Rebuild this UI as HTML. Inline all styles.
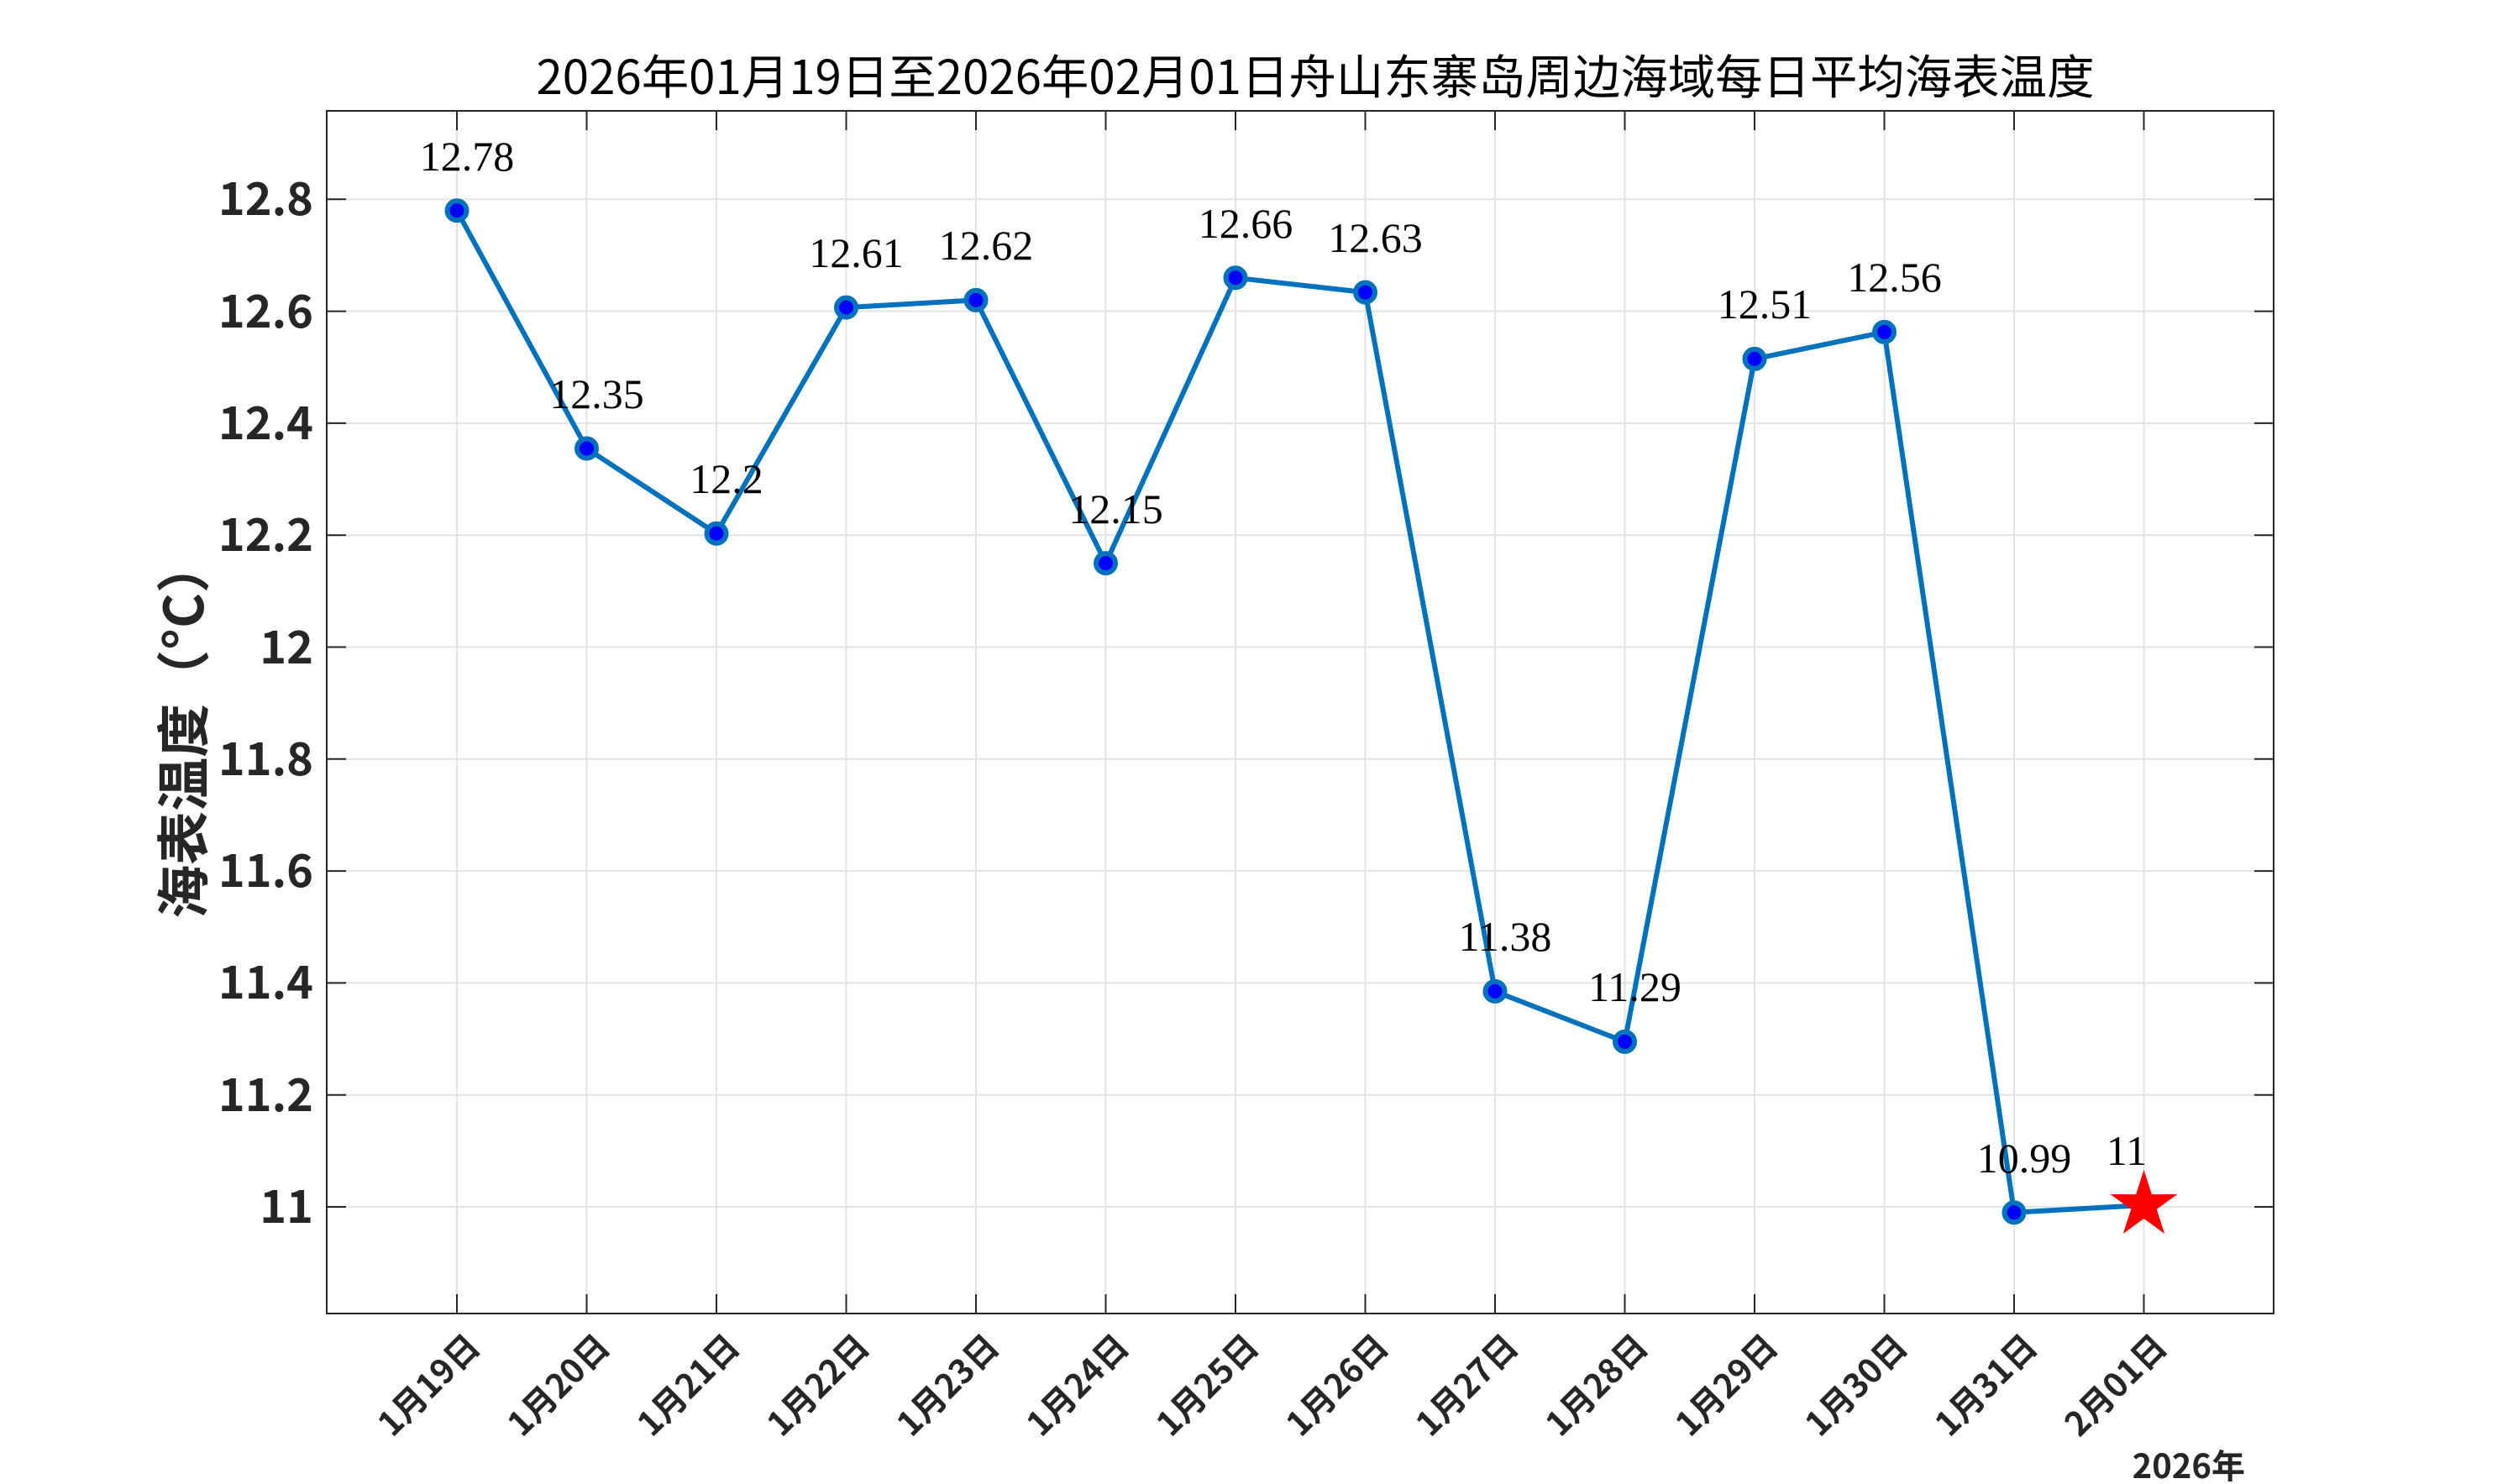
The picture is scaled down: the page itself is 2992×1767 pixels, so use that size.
<!DOCTYPE html>
<html><head><meta charset="utf-8"><style>html,body{margin:0;padding:0;background:#fff}svg{display:block}</style></head>
<body>
<svg width="2992" height="1767" viewBox="0 0 2992 1767" xmlns="http://www.w3.org/2000/svg">
<rect width="2992" height="1767" fill="#fff"/>
<g stroke="#e3e3e3" stroke-width="2">
<line x1="389" x2="2707" y1="1437" y2="1437"/><line x1="389" x2="2707" y1="1303.7" y2="1303.7"/><line x1="389" x2="2707" y1="1170.4" y2="1170.4"/><line x1="389" x2="2707" y1="1037.1" y2="1037.1"/><line x1="389" x2="2707" y1="903.8" y2="903.8"/><line x1="389" x2="2707" y1="770.5" y2="770.5"/><line x1="389" x2="2707" y1="637.2" y2="637.2"/><line x1="389" x2="2707" y1="503.9" y2="503.9"/><line x1="389" x2="2707" y1="370.6" y2="370.6"/><line x1="389" x2="2707" y1="237.3" y2="237.3"/>
<line y1="132" y2="1564" x1="544" x2="544"/><line y1="132" y2="1564" x1="698.5" x2="698.5"/><line y1="132" y2="1564" x1="853" x2="853"/><line y1="132" y2="1564" x1="1007.5" x2="1007.5"/><line y1="132" y2="1564" x1="1162" x2="1162"/><line y1="132" y2="1564" x1="1316.5" x2="1316.5"/><line y1="132" y2="1564" x1="1471" x2="1471"/><line y1="132" y2="1564" x1="1625.5" x2="1625.5"/><line y1="132" y2="1564" x1="1780" x2="1780"/><line y1="132" y2="1564" x1="1934.5" x2="1934.5"/><line y1="132" y2="1564" x1="2089" x2="2089"/><line y1="132" y2="1564" x1="2243.5" x2="2243.5"/><line y1="132" y2="1564" x1="2398" x2="2398"/><line y1="132" y2="1564" x1="2552.5" x2="2552.5"/>
</g>
<g stroke="#262626" stroke-width="2">
<path d="M389,1437h23M389,1303.7h23M389,1170.4h23M389,1037.1h23M389,903.8h23M389,770.5h23M389,637.2h23M389,503.9h23M389,370.6h23M389,237.3h23"/>
<path d="M2707,1437h-23M2707,1303.7h-23M2707,1170.4h-23M2707,1037.1h-23M2707,903.8h-23M2707,770.5h-23M2707,637.2h-23M2707,503.9h-23M2707,370.6h-23M2707,237.3h-23"/>
<path d="M544,1564v-23M698.5,1564v-23M853,1564v-23M1007.5,1564v-23M1162,1564v-23M1316.5,1564v-23M1471,1564v-23M1625.5,1564v-23M1780,1564v-23M1934.5,1564v-23M2089,1564v-23M2243.5,1564v-23M2398,1564v-23M2552.5,1564v-23"/>
<path d="M544,132v23M698.5,132v23M853,132v23M1007.5,132v23M1162,132v23M1316.5,132v23M1471,132v23M1625.5,132v23M1780,132v23M1934.5,132v23M2089,132v23M2243.5,132v23M2398,132v23M2552.5,132v23"/>
<rect x="389" y="132" width="2318" height="1432" fill="none"/>
</g>
<text x="1566" y="112" text-anchor="middle" font-family="Noto Sans CJK SC, sans-serif" font-size="56" fill="#000" textLength="1855" lengthAdjust="spacingAndGlyphs">2026年01月19日至2026年02月01日舟山东寨岛周边海域每日平均海表温度</text>
<g font-family="Noto Sans CJK SC, Liberation Sans, sans-serif" font-weight="bold" font-size="54" fill="#262626" text-anchor="end">
<text x="373" y="1456">11</text><text x="373" y="1323">11.2</text><text x="373" y="1189">11.4</text><text x="373" y="1056">11.6</text><text x="373" y="923">11.8</text><text x="373" y="790">12</text><text x="373" y="656">12.2</text><text x="373" y="523">12.4</text><text x="373" y="390">12.6</text><text x="373" y="256">12.8</text>
</g>
<text transform="translate(242,868) rotate(-90)" text-anchor="middle" font-family="Noto Sans CJK SC, sans-serif" font-weight="bold" font-size="64" fill="#262626">海表温度（°C）</text>
<g font-family="Noto Sans CJK SC, sans-serif" font-weight="bold" font-size="40" fill="#262626" text-anchor="end">
<text transform="translate(564,1596) rotate(-45)" dy="0.35em">1月19日</text>
<text transform="translate(718.5,1596) rotate(-45)" dy="0.35em">1月20日</text>
<text transform="translate(873,1596) rotate(-45)" dy="0.35em">1月21日</text>
<text transform="translate(1027.5,1596) rotate(-45)" dy="0.35em">1月22日</text>
<text transform="translate(1182,1596) rotate(-45)" dy="0.35em">1月23日</text>
<text transform="translate(1336.5,1596) rotate(-45)" dy="0.35em">1月24日</text>
<text transform="translate(1491,1596) rotate(-45)" dy="0.35em">1月25日</text>
<text transform="translate(1645.5,1596) rotate(-45)" dy="0.35em">1月26日</text>
<text transform="translate(1800,1596) rotate(-45)" dy="0.35em">1月27日</text>
<text transform="translate(1954.5,1596) rotate(-45)" dy="0.35em">1月28日</text>
<text transform="translate(2109,1596) rotate(-45)" dy="0.35em">1月29日</text>
<text transform="translate(2263.5,1596) rotate(-45)" dy="0.35em">1月30日</text>
<text transform="translate(2418,1596) rotate(-45)" dy="0.35em">1月31日</text>
<text transform="translate(2572.5,1596) rotate(-45)" dy="0.35em">2月01日</text>
<text x="2673" y="1760">2026年</text>
</g>
<polyline fill="none" stroke="#0072BD" stroke-width="6" stroke-linejoin="round" points="544,250.8 698.5,534 853,635.3 1007.5,366.1 1162,357.4 1316.5,670.6 1471,330.8 1625.5,348.1 1780,1180.4 1934.5,1240.4 2089,427.4 2243.5,395.4 2398,1443.7 2552.5,1435"/>
<g fill="#0000ff" stroke="#0072BD" stroke-width="6">
<circle cx="544" cy="250.8" r="11.5"/><circle cx="698.5" cy="534" r="11.5"/><circle cx="853" cy="635.3" r="11.5"/><circle cx="1007.5" cy="366.1" r="11.5"/><circle cx="1162" cy="357.4" r="11.5"/><circle cx="1316.5" cy="670.6" r="11.5"/><circle cx="1471" cy="330.8" r="11.5"/><circle cx="1625.5" cy="348.1" r="11.5"/><circle cx="1780" cy="1180.4" r="11.5"/><circle cx="1934.5" cy="1240.4" r="11.5"/><circle cx="2089" cy="427.4" r="11.5"/><circle cx="2243.5" cy="395.4" r="11.5"/><circle cx="2398" cy="1443.7" r="11.5"/>
</g>
<polygon transform="translate(2552.5,1435)" fill="#ff0000" points="0,-42 9.4,-12.9 39.9,-13 15.2,4.9 24.7,34 0,16 -24.7,34 -15.2,4.9 -39.9,-13 -9.4,-12.9"/>
<g font-family="Liberation Serif, serif" font-size="50" fill="#000" text-anchor="middle">
<text x="556" y="203">12.78</text><text x="710.5" y="486">12.35</text><text x="865" y="587">12.2</text><text x="1019.5" y="318">12.61</text><text x="1174" y="309">12.62</text><text x="1328.5" y="623">12.15</text><text x="1483" y="283">12.66</text><text x="1637.5" y="300">12.63</text><text x="1792" y="1132">11.38</text><text x="1946.5" y="1192">11.29</text><text x="2101" y="379">12.51</text><text x="2255.5" y="347">12.56</text><text x="2410" y="1396">10.99</text><text x="2532" y="1387">11</text>
</g>
</svg>
</body></html>
